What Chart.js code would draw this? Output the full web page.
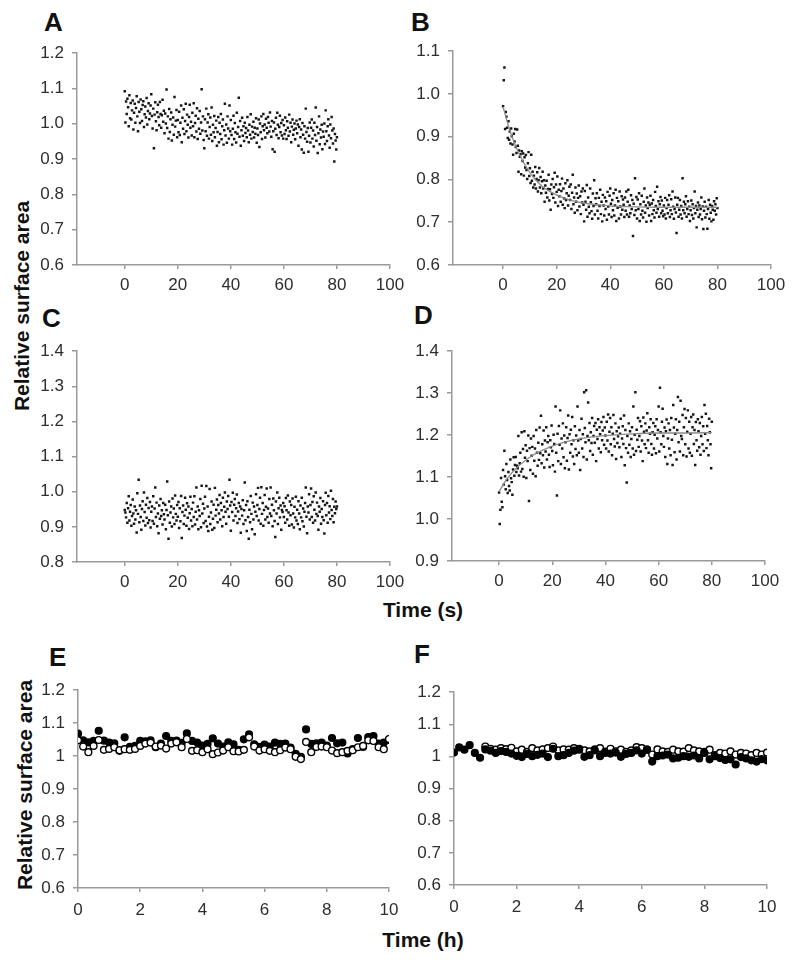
<!DOCTYPE html>
<html>
<head>
<meta charset="utf-8">
<script src="https://cdn.jsdelivr.net/npm/chart.js@4.4.0/dist/chart.umd.min.js"></script>
<style>
  body { margin: 0; background: #fff; width: 800px; height: 963px; position: relative; overflow: hidden;
         font-family: 'Liberation Sans', Arial, sans-serif; }
  .wrap { position: absolute; }
  .lbl { position: absolute; font-weight: bold; color: #111; line-height: 1; white-space: nowrap; }
  .letter { font-size: 26px; }
  .title { font-size: 21px; width: 200px; text-align: center; }
  .ytitle { font-size: 21px; width: 260px; height: 26px; line-height: 26px; text-align: center;
            transform: rotate(-90deg); transform-origin: center; }
</style>
</head>
<body>

<div class="lbl letter" style="left:44px;top:9px">A</div>
<div class="lbl letter" style="left:411px;top:9px">B</div>
<div class="lbl letter" style="left:42px;top:305px">C</div>
<div class="lbl letter" style="left:414px;top:302px">D</div>
<div class="lbl letter" style="left:49px;top:644px">E</div>
<div class="lbl letter" style="left:414px;top:641px">F</div>

<div class="lbl ytitle" style="left:-108px;top:293px">Relative surface area</div>
<div class="lbl ytitle" style="left:-105px;top:772px">Relative surface area</div>
<div class="lbl title" style="left:323px;top:599px">Time (s)</div>
<div class="lbl title" style="left:323px;top:929px">Time (h)</div>

<script>
// --- Data ---
// panels A-D: one reading every 0.25 s from 0 to 80 s
const sampleStepSec = 0.25;
// panels E-F: one reading every 10 min from 0 to 10 h
const sampleStepHour = 1 / 6;

const areaA = [
  1.092,1.004,1.063,1.028,1.071,1.047,0.993,1.081,1.016,1.059,1.012,1.038,1.066,0.984,1.031,1.057,1.003,1.045,1.078,1.021,
  0.979,1.062,1.034,1.002,1.069,1.041,1.008,1.053,1.064,0.991,1.027,1.049,1.018,1.073,0.998,1.036,1.058,1.013,1.029,1.052,
  1.084,1.022,0.987,1.043,0.931,1.026,1.061,1.007,0.982,1.033,1.054,1.019,0.996,1.062,1.028,0.989,1.024,1.068,1.006,1.037,
  0.973,1.029,1.001,1.097,0.988,1.021,0.958,1.042,0.977,1.013,1.032,0.953,0.997,1.018,0.969,1.076,0.992,1.009,1.039,0.962,
  1.011,0.976,1.034,0.968,1.003,1.052,0.948,1.017,0.986,1.041,0.971,1.008,1.057,0.979,1.026,0.997,0.961,1.019,1.054,0.989,
  1.006,0.967,1.031,0.993,1.058,0.962,1.002,1.023,0.978,1.044,0.957,1.014,0.986,1.036,0.972,1.004,1.098,0.981,1.021,0.954,
  0.931,1.013,0.979,1.043,0.966,1.004,1.027,0.958,0.991,1.018,0.969,1.046,0.951,0.997,0.976,1.022,0.962,0.988,1.009,0.938,
  0.977,1.019,0.948,1.003,0.971,1.028,0.956,0.993,1.012,0.941,0.982,1.057,0.967,0.998,0.946,1.021,0.987,0.958,1.052,0.979,
  1.011,0.968,0.941,0.986,1.023,0.957,1.002,0.976,0.947,1.031,0.972,0.991,1.074,0.963,1.008,0.938,0.982,1.017,0.966,0.993,
  0.951,1.003,0.974,0.988,0.962,1.019,0.981,0.948,0.997,0.969,1.027,0.958,0.992,0.977,1.006,0.961,0.989,0.972,1.016,0.946,
  0.987,0.968,1.012,0.934,1.001,0.976,1.021,0.957,0.993,1.028,0.982,0.998,0.961,1.014,0.989,0.973,1.019,1.003,0.978,1.032,
  0.992,0.963,1.008,0.928,0.979,1.004,0.921,0.986,1.017,0.968,1.031,0.997,0.959,0.991,1.023,0.976,1.002,0.967,1.011,0.958,
  0.996,0.971,1.018,0.982,0.957,1.007,0.989,0.966,1.026,0.978,1.003,0.948,0.992,1.012,0.969,0.983,1.001,0.956,0.987,1.009,
  0.973,0.998,0.938,0.991,1.013,0.962,0.984,0.927,1.002,0.969,0.918,0.993,0.958,1.043,0.977,0.949,0.988,0.921,0.966,1.004,
  0.947,0.989,1.012,0.958,0.981,0.936,1.003,0.968,1.046,0.952,0.991,0.917,0.973,1.021,0.942,0.984,0.961,0.997,0.928,0.978,
  0.963,1.001,0.943,1.038,0.979,0.951,0.993,1.013,0.967,0.932,0.998,0.959,1.019,0.981,0.944,0.987,0.893,0.971,0.953,0.927,
  0.962
];

const areaB = [
  0.971,1.032,1.062,0.918,0.958,0.947,0.921,0.897,0.936,0.893,0.912,0.884,0.919,0.901,0.882,0.858,0.907,0.889,0.918,0.876,
  0.862,0.917,0.879,0.818,0.868,0.853,0.859,0.812,0.866,0.843,0.861,0.809,0.852,0.828,0.857,0.822,0.801,0.838,0.864,0.808,
  0.826,0.792,0.858,0.797,0.818,0.781,0.809,0.788,0.829,0.779,0.801,0.817,0.772,0.798,0.827,0.781,0.806,0.768,0.796,0.818,
  0.779,0.798,0.748,0.786,0.769,0.797,0.758,0.778,0.811,0.751,0.777,0.729,0.788,0.766,0.801,0.757,0.782,0.816,0.746,0.788,
  0.771,0.807,0.738,0.776,0.761,0.789,0.748,0.773,0.802,0.741,0.779,0.756,0.733,0.791,0.752,0.768,0.798,0.739,0.762,0.783,
  0.752,0.788,0.731,0.769,0.811,0.742,0.758,0.722,0.781,0.748,0.767,0.728,0.757,0.786,0.737,0.761,0.719,0.772,0.746,0.779,
  0.741,0.702,0.773,0.748,0.729,0.787,0.713,0.758,0.736,0.721,0.779,0.747,0.726,0.708,0.767,0.738,0.798,0.718,0.756,0.742,
  0.768,0.727,0.709,0.757,0.738,0.776,0.719,0.748,0.702,0.764,0.739,0.716,0.758,0.731,0.749,0.706,0.771,0.737,0.718,0.762,
  0.779,0.743,0.712,0.752,0.728,0.768,0.716,0.739,0.776,0.703,0.757,0.734,0.749,0.709,0.772,0.737,0.718,0.761,0.729,0.753,
  0.741,0.712,0.758,0.727,0.772,0.718,0.748,0.776,0.713,0.739,0.721,0.763,0.731,0.752,0.668,0.743,0.717,0.803,0.728,0.759,
  0.709,0.753,0.731,0.768,0.703,0.742,0.718,0.762,0.727,0.711,0.748,0.779,0.722,0.739,0.701,0.758,0.733,0.746,0.716,0.741,
  0.762,0.703,0.744,0.719,0.752,0.728,0.711,0.771,0.738,0.722,0.783,0.731,0.749,0.713,0.742,0.759,0.721,0.751,0.727,0.714,
  0.739,0.718,0.757,0.709,0.733,0.752,0.721,0.741,0.763,0.712,0.728,0.754,0.719,0.772,0.736,0.708,0.731,0.758,0.723,0.675,
  0.741,0.757,0.713,0.729,0.752,0.718,0.738,0.709,0.803,0.728,0.748,0.721,0.742,0.761,0.713,0.731,0.749,0.719,0.736,0.703,
  0.728,0.751,0.717,0.742,0.709,0.733,0.772,0.721,0.738,0.688,0.729,0.746,0.712,0.739,0.718,0.731,0.758,0.707,0.737,0.684,
  0.727,0.748,0.711,0.736,0.719,0.685,0.731,0.752,0.708,0.741,0.722,0.702,0.738,0.729,0.706,0.749,0.727,0.742,0.718,0.756,
  0.733
];

const areaC = [
  0.948,0.941,0.927,0.968,0.912,0.953,0.987,0.918,0.943,0.962,0.903,0.931,0.978,0.938,0.909,0.958,0.921,0.947,0.884,0.996,
  0.937,1.034,0.913,0.961,0.928,0.892,0.951,0.973,0.917,0.998,0.942,0.904,0.963,0.926,0.982,0.911,0.954,0.919,0.971,0.898,
  0.943,0.958,0.917,0.987,0.909,0.952,1.012,0.928,0.969,0.902,0.938,0.882,0.961,0.923,0.979,0.931,0.947,0.907,0.968,0.936,
  0.921,0.963,0.893,0.948,1.029,0.933,0.866,0.972,0.912,0.941,0.958,0.901,0.981,0.927,0.952,0.908,0.989,0.937,0.918,0.962,
  0.929,0.971,0.897,0.953,0.916,0.988,0.868,0.942,0.961,0.908,0.932,0.983,0.949,0.903,0.967,0.926,0.958,0.894,0.939,0.986,
  0.918,0.951,0.902,0.969,0.928,0.987,0.907,0.943,1.012,0.921,0.958,0.893,0.947,0.931,0.979,0.899,1.017,0.938,0.966,0.911,
  0.952,0.986,0.917,1.016,0.901,0.958,0.888,0.929,1.008,0.908,0.941,0.972,0.892,0.923,0.963,0.897,1.011,0.932,0.949,0.978,
  0.913,0.962,0.938,0.991,0.921,0.968,0.947,0.902,0.983,0.928,0.957,0.998,0.943,0.909,0.972,0.951,0.988,0.929,1.034,0.961,
  0.889,0.971,0.942,0.997,0.918,0.963,0.979,0.931,0.953,0.992,0.911,0.944,0.968,0.922,0.958,0.883,0.951,0.932,0.976,0.908,
  0.947,1.026,0.919,0.962,0.888,0.973,0.928,0.866,0.949,0.913,0.988,0.937,0.893,0.969,0.921,0.958,0.879,0.943,0.993,0.931,
  0.962,1.011,0.918,0.951,0.983,0.909,1.013,0.937,0.968,0.903,0.948,0.991,0.921,0.957,1.009,0.928,0.952,0.912,0.979,0.938,
  1.012,0.931,0.963,0.902,0.981,0.947,0.917,0.871,0.972,0.938,0.998,0.908,0.953,0.983,0.927,0.961,0.892,0.948,0.942,0.968,
  0.928,0.959,0.912,0.982,0.947,0.921,0.989,0.941,0.903,0.972,0.933,0.962,0.907,0.981,0.938,0.898,0.957,0.927,0.986,0.918,
  0.949,0.908,0.973,0.938,0.893,0.961,0.927,0.983,0.916,0.952,0.901,0.943,0.968,1.012,0.929,0.882,0.958,0.941,0.993,0.921,
  0.962,1.009,0.928,0.971,0.912,0.987,0.949,0.918,0.998,0.937,0.969,0.931,0.892,0.958,0.943,0.982,0.909,0.951,0.928,0.973,
  0.919,0.881,0.962,0.997,0.933,0.968,0.912,0.988,0.941,0.959,0.922,1.003,0.948,0.931,0.979,0.913,0.957,0.939,0.972,0.951,
  0.958
];

const areaD = [
  1.063,0.988,1.022,1.098,1.041,1.028,1.117,1.082,1.163,1.102,1.071,1.131,1.093,1.062,1.112,1.079,1.068,1.142,1.097,1.088,
  1.058,1.118,1.147,1.103,1.129,1.148,1.112,1.127,1.121,1.198,1.104,1.133,1.158,1.113,1.207,1.119,1.167,1.101,1.209,1.146,
  1.176,1.098,1.163,1.138,1.199,1.043,1.169,1.117,1.192,1.151,1.172,1.108,1.198,1.139,1.168,1.102,1.212,1.158,1.127,1.182,
  1.141,1.218,1.157,1.246,1.133,1.178,1.152,1.211,1.123,1.187,1.161,1.219,1.142,1.183,1.198,1.153,1.124,1.188,1.171,1.223,
  1.162,1.128,1.201,1.179,1.113,1.268,1.158,1.056,1.203,1.138,1.222,1.177,1.259,1.131,1.192,1.168,1.228,1.147,1.199,1.121,
  1.183,1.219,1.139,1.193,1.247,1.118,1.202,1.158,1.213,1.178,1.243,1.149,1.188,1.131,1.221,1.167,1.199,1.152,1.268,1.187,
  1.158,1.212,1.117,1.191,1.239,1.168,1.202,1.148,1.302,1.217,1.183,1.307,1.142,1.198,1.278,1.188,1.229,1.162,1.207,1.181,
  1.241,1.153,1.198,1.222,1.182,1.229,1.138,1.213,1.191,1.238,1.168,1.219,1.202,1.159,1.231,1.188,1.211,1.243,1.177,1.218,
  1.199,1.168,1.232,1.187,1.249,1.161,1.208,1.241,1.178,1.219,1.152,1.203,1.248,1.191,1.173,1.228,1.143,1.209,1.181,1.197,
  1.218,1.171,1.203,1.239,1.148,1.192,1.221,1.179,1.247,1.128,1.212,1.169,1.087,1.198,1.158,1.228,1.177,1.209,1.148,1.191,
  1.219,1.168,1.268,1.153,1.201,1.302,1.162,1.213,1.189,1.241,1.172,1.198,1.233,1.161,1.221,1.187,1.138,1.242,1.208,1.178,
  1.228,1.169,1.211,1.252,1.188,1.158,1.219,1.203,1.238,1.179,1.153,1.207,1.229,1.168,1.201,1.221,1.157,1.238,1.192,1.212,
  1.268,1.161,1.313,1.207,1.178,1.232,1.263,1.198,1.172,1.218,1.148,1.209,1.237,1.131,1.192,1.228,1.168,1.212,1.152,1.241,
  1.189,1.129,1.272,1.218,1.159,1.203,1.238,1.142,1.212,1.291,1.183,1.232,1.161,1.282,1.198,1.191,1.248,1.152,1.219,1.262,
  1.178,1.241,1.149,1.208,1.259,1.168,1.232,1.158,1.203,1.243,1.151,1.219,1.249,1.179,1.212,1.129,1.231,1.188,1.163,1.238,
  1.209,1.171,1.229,1.153,1.198,1.243,1.178,1.221,1.162,1.272,1.203,1.251,1.169,1.222,1.188,1.152,1.239,1.207,1.178,1.121,
  1.232
];

// exponential fits drawn through panels B and D
const fitTimes = [0, 2, 4, 6, 8, 10, 12, 15, 20, 25, 30, 35, 40, 50, 60, 70, 80];
const fitB = [0.970, 0.925, 0.889, 0.860, 0.836, 0.816, 0.800, 0.782, 0.764, 0.752, 0.745, 0.741, 0.738, 0.736, 0.735, 0.735, 0.735];
const fitD = [1.065, 1.087, 1.104, 1.118, 1.130, 1.140, 1.149, 1.160, 1.174, 1.184, 1.191, 1.196, 1.199, 1.203, 1.205, 1.205, 1.206];

// panels E-F: filled and open circles
const filledE = [
  1.068,1.048,1.042,1.046,1.077,1.047,1.041,1.039,1.016,1.057,1.028,1.031,1.046,1.045,1.048,1.027,1.038,1.061,1.046,1.047,
  1.040,1.069,1.046,1.041,1.032,1.037,1.054,1.038,1.029,1.042,1.036,1.019,1.051,1.066,1.036,1.028,1.035,1.029,1.041,1.037,
  1.038,1.026,1.007,0.998,1.081,1.037,1.039,1.041,1.032,1.055,1.039,1.041,1.008,1.021,1.055,1.028,1.058,1.061,1.038,1.041,
  1.049
];
const openE = [
  1.048,1.029,1.012,1.031,1.049,1.019,1.022,1.027,1.018,1.021,1.019,1.022,1.031,1.038,1.041,1.029,1.032,1.023,1.038,1.042,
  1.027,1.052,1.016,1.018,1.012,1.021,1.006,1.011,1.017,1.027,1.015,1.014,1.019,1.057,1.029,1.017,1.021,1.016,1.012,1.018,
  1.026,1.021,0.998,0.991,1.043,1.012,1.028,1.029,1.027,1.017,1.009,1.012,1.016,1.018,1.027,1.031,1.048,1.046,1.027,1.021,
  1.052
];
const filledF = [
  1.012,1.028,1.021,1.035,1.011,0.996,1.022,1.018,1.011,1.017,1.014,1.009,1.002,0.998,1.008,1.001,1.005,1.009,0.998,1.024,
  1.001,1.004,1.011,1.018,1.021,0.999,1.004,1.019,1.001,1.011,1.009,1.012,0.999,1.008,1.011,1.019,1.009,1.021,0.984,1.001,
  1.003,1.006,0.994,0.996,1.001,0.999,1.003,0.994,1.011,0.991,1.001,0.995,0.989,0.991,0.975,0.998,0.994,0.988,0.984,0.992,
  0.988
];
const openF = [
  null,null,null,null,null,null,1.031,1.024,1.021,1.026,1.023,1.027,1.016,1.021,1.014,1.026,1.019,1.022,1.026,1.031,
  1.019,1.022,1.021,1.026,1.024,1.019,1.016,1.022,1.026,1.015,1.024,1.016,1.021,1.014,1.019,1.029,1.026,1.021,1.006,1.022,
  1.016,1.014,1.021,1.016,1.015,1.026,1.019,1.016,1.014,1.021,1.004,1.011,1.009,1.016,1.006,1.011,1.009,1.004,1.011,1.006,
  1.012
];

// axis ticks
const xTicksSec = [0, 20, 40, 60, 80, 100];
const xTicksHour = [0, 2, 4, 6, 8, 10];
const yTicksA = [0.6, 0.7, 0.8, 0.9, 1.0, 1.1, 1.2];
const yTicksB = [0.6, 0.7, 0.8, 0.9, 1.0, 1.1];
const yTicksC = [0.8, 0.9, 1.0, 1.1, 1.2, 1.3, 1.4];
const yTicksD = [0.9, 1.0, 1.1, 1.2, 1.3, 1.4];
const yTicksEF = [0.6, 0.7, 0.8, 0.9, 1, 1.1, 1.2];
const yLabelsEF = ['0.6', '0.7', '0.8', '0.9', '1', '1.1', '1.2'];

// --- Styling ---
const AXIS_COLOR = '#9a9a9a';
const TEXT_COLOR = '#2e2e2e';
const FONT = { family: "'Liberation Sans', Arial, sans-serif", size: 17 };

function toPoints(values, step) {
  return values.map((v, i) => ({ x: i * step, y: v }));
}
function fitPoints(times, values) {
  return times.map((t, i) => ({ x: t, y: values[i] }));
}

function dotSet(values) {
  return {
    data: toPoints(values, sampleStepSec),
    pointStyle: 'rect', pointRadius: 1.75, backgroundColor: '#151515', borderWidth: 0
  };
}
function fitSet(values) {
  return {
    type: 'line', data: fitPoints(fitTimes, values), borderColor: '#8c8c8c', borderWidth: 1.3,
    pointRadius: 0, cubicInterpolationMode: 'monotone', fill: false
  };
}
function circleSet(values, filled) {
  return {
    data: toPoints(values, sampleStepHour),
    pointStyle: 'circle', pointRadius: 3.4,
    backgroundColor: filled ? '#000' : '#fff', borderColor: '#000', borderWidth: 1.4
  };
}

// --- Build one panel; box = plot area in page pixels ---
function makePanel(box, x, y, datasets) {
  const padL = 50, padT = 10, padR = 22, padB = 40;
  const wrap = document.createElement('div');
  wrap.className = 'wrap';
  wrap.style.left = (box.l - padL) + 'px';
  wrap.style.top = (box.t - padT) + 'px';
  const cv = document.createElement('canvas');
  cv.width = box.r - box.l + padL + padR;
  cv.height = box.b - box.t + padT + padB;
  wrap.appendChild(cv);
  document.body.appendChild(wrap);

  new Chart(cv, {
    type: 'scatter',
    data: { datasets },
    options: {
      responsive: false, animation: false, devicePixelRatio: 1,
      layout: { padding: { top: padT, right: padR, left: 0, bottom: 0 } },
      plugins: { legend: { display: false }, tooltip: { enabled: false } },
      scales: {
        x: {
          type: 'linear', min: x.min, max: x.max,
          afterFit: s => { s.height = padB; },
          afterBuildTicks: s => { s.ticks = x.ticks.map(v => ({ value: v })); },
          ticks: { callback: (v) => String(v), font: FONT, color: TEXT_COLOR, padding: x.pad, maxRotation: 0, autoSkip: false },
          grid: { display: true, drawOnChartArea: false, drawTicks: true, tickLength: 4, color: AXIS_COLOR, lineWidth: 1.5 },
          border: { display: true, color: AXIS_COLOR, width: 1.5 }
        },
        y: {
          type: 'linear', min: y.min, max: y.max,
          afterFit: s => { s.width = padL; },
          afterBuildTicks: s => { s.ticks = y.ticks.map(v => ({ value: v })); },
          ticks: { callback: (v, i) => y.labels[i], font: FONT, color: TEXT_COLOR, padding: 8, autoSkip: false },
          grid: { display: true, drawOnChartArea: false, drawTicks: true, tickLength: 5, color: AXIS_COLOR, lineWidth: 1.5 },
          border: { display: true, color: AXIS_COLOR, width: 1.5 }
        }
      }
    }
  });
}

const fmt1 = arr => arr.map(v => v.toFixed(1));

makePanel({ l: 77, t: 45, r: 390, b: 265 },
  { min: -18, max: 100, ticks: xTicksSec, pad: 6 },
  { min: 0.6, max: 1.2, ticks: yTicksA, labels: fmt1(yTicksA) },
  [dotSet(areaA)]);

makePanel({ l: 453, t: 43, r: 771, b: 265 },
  { min: -18.7, max: 100, ticks: xTicksSec, pad: 6 },
  { min: 0.6, max: 1.1, ticks: yTicksB, labels: fmt1(yTicksB) },
  [fitSet(fitB), dotSet(areaB)]);

makePanel({ l: 77, t: 343, r: 390, b: 562 },
  { min: -18, max: 100, ticks: xTicksSec, pad: 6 },
  { min: 0.8, max: 1.4, ticks: yTicksC, labels: fmt1(yTicksC) },
  [dotSet(areaC)]);

makePanel({ l: 452, t: 343, r: 765, b: 561 },
  { min: -17.7, max: 100, ticks: xTicksSec, pad: 6 },
  { min: 0.9, max: 1.4, ticks: yTicksD, labels: fmt1(yTicksD) },
  [fitSet(fitD), dotSet(areaD)]);

makePanel({ l: 78, t: 682, r: 389, b: 888 },
  { min: 0, max: 10, ticks: xTicksHour, pad: 8 },
  { min: 0.6, max: 1.2, ticks: yTicksEF, labels: yLabelsEF },
  [circleSet(openE, false), circleSet(filledE, true)]);

makePanel({ l: 454, t: 684, r: 767, b: 885 },
  { min: 0, max: 10, ticks: xTicksHour, pad: 8 },
  { min: 0.6, max: 1.2, ticks: yTicksEF, labels: yLabelsEF },
  [circleSet(filledF, true), circleSet(openF, false)]);
</script>
</body>
</html>
